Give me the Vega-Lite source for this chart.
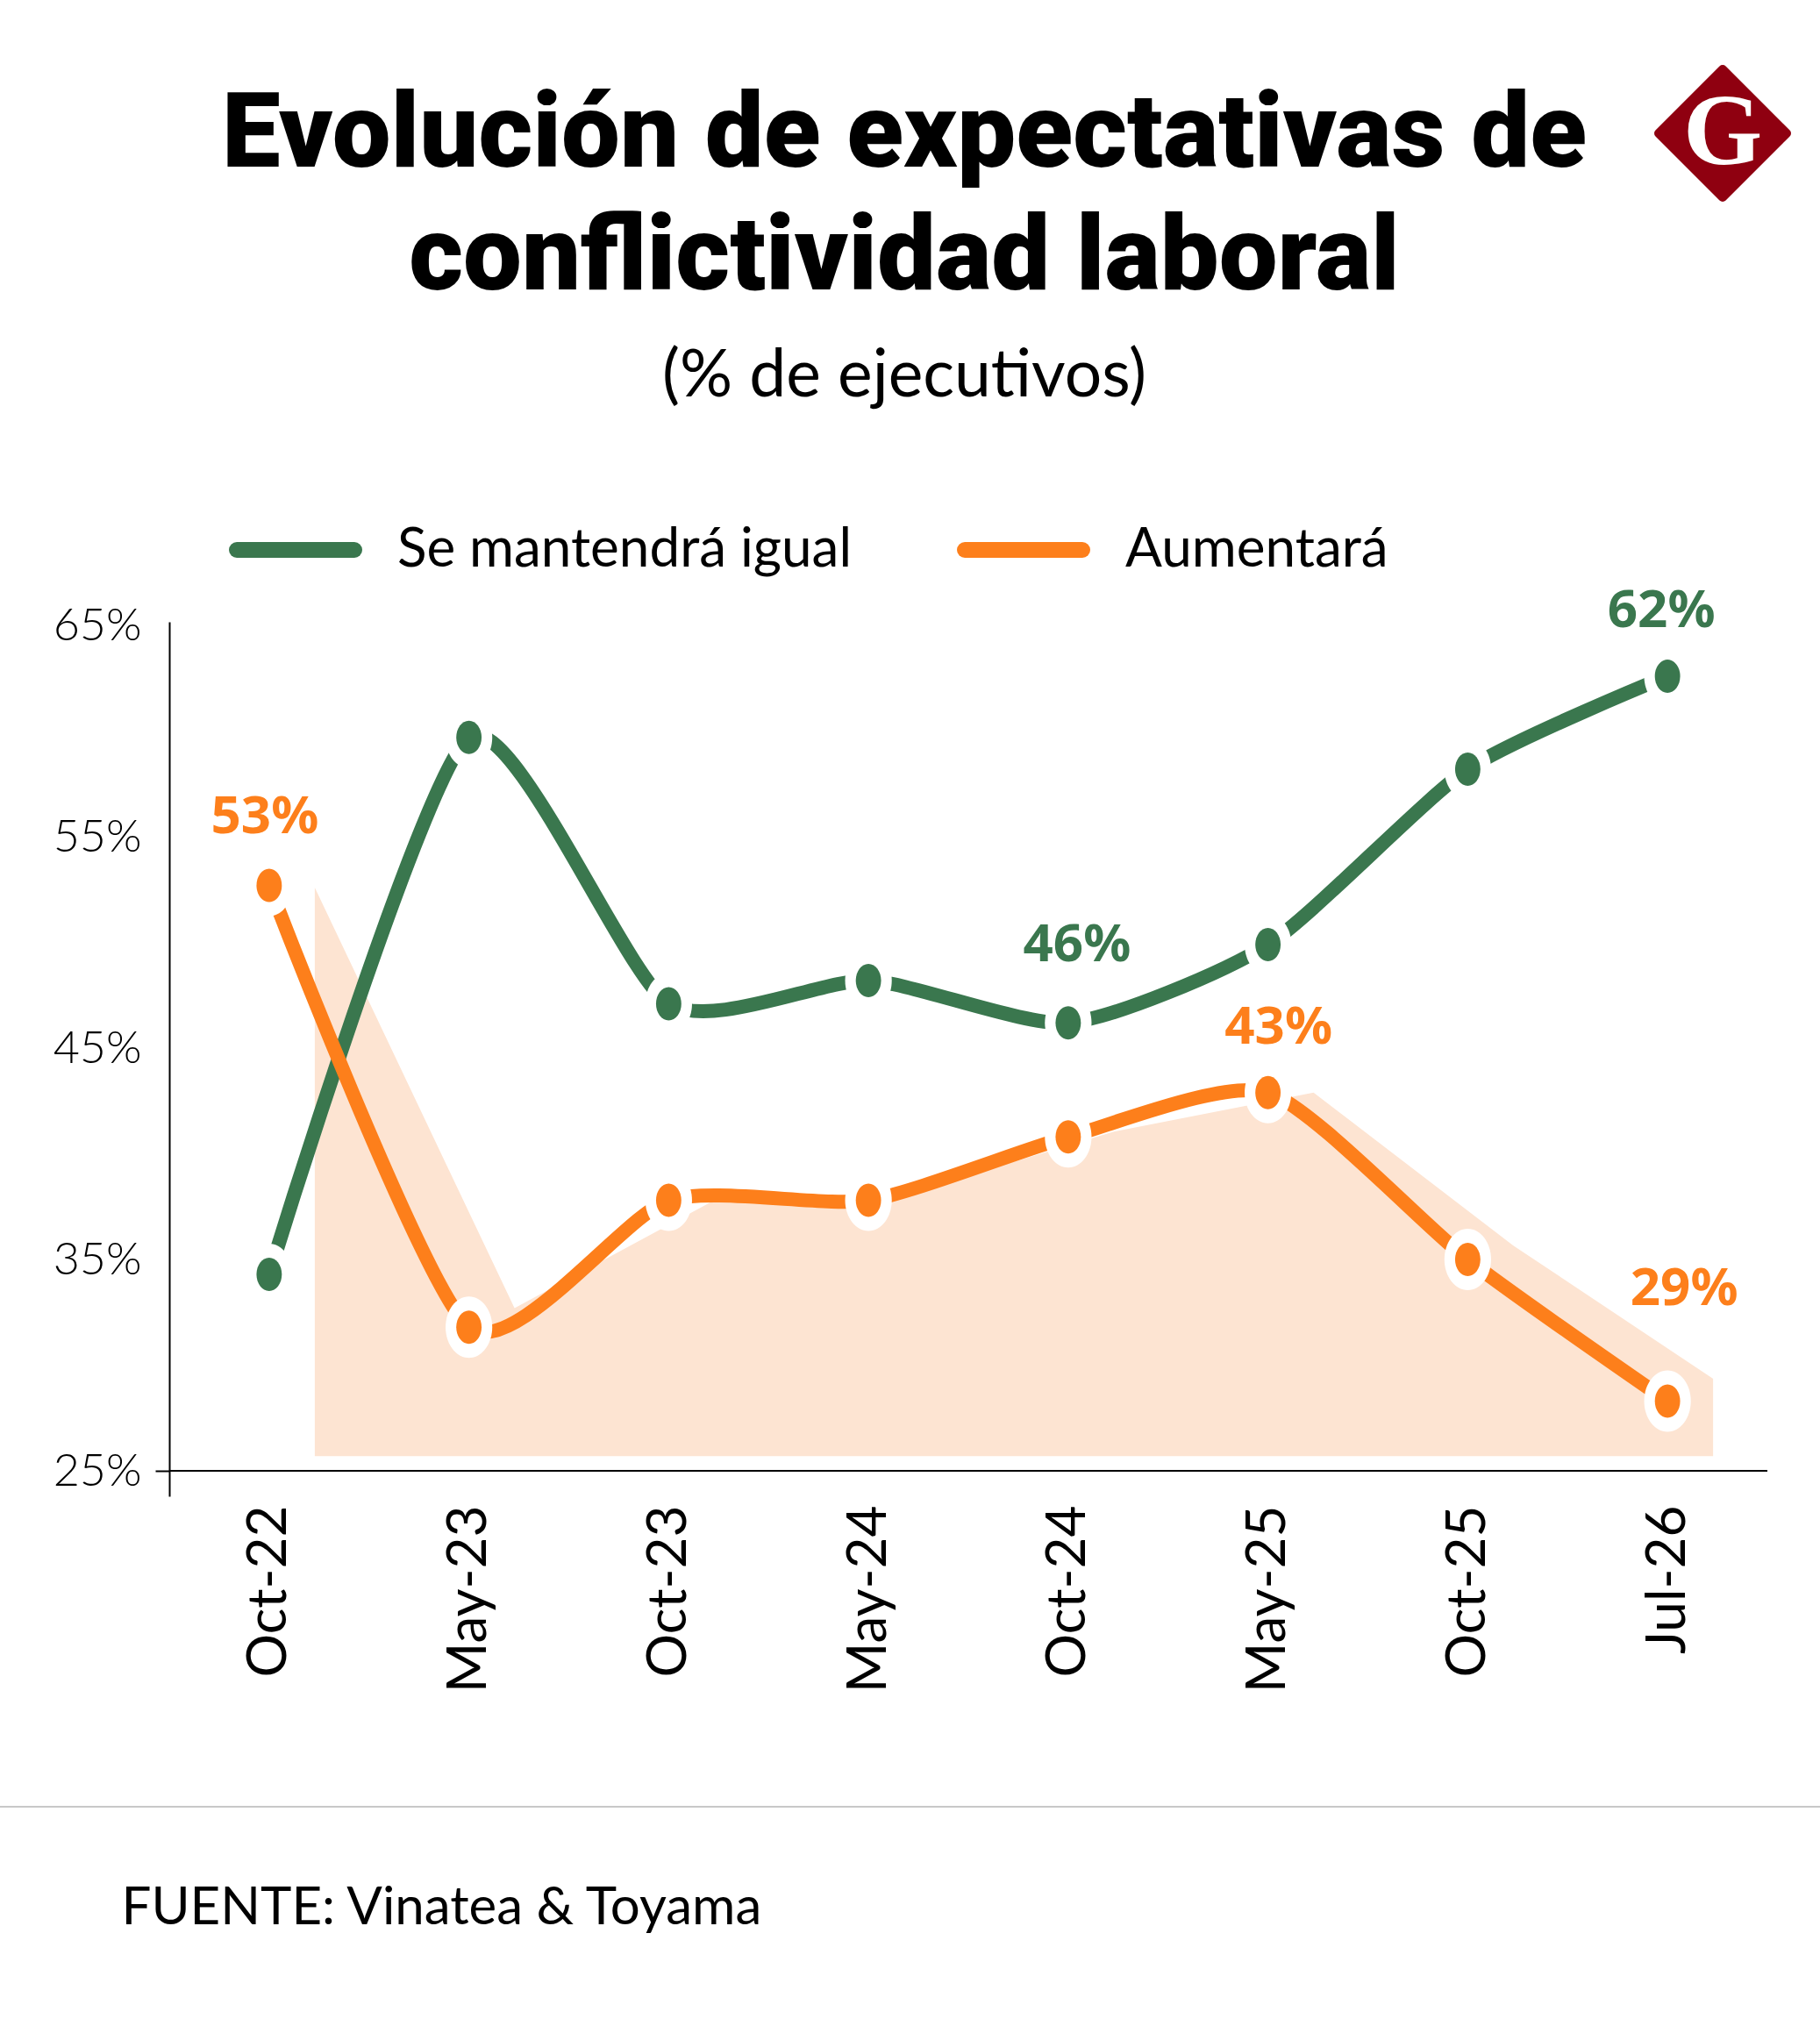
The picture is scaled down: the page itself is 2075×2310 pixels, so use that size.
{
  "$schema": "https://vega.github.io/schema/vega-lite/v6.json",
  "autosize": {"type": "none"},
  "padding": {"left": 193, "top": 709, "right": 60, "bottom": 604},
  "width": 1822,
  "height": 997,
  "background": "white",
  "title": {
    "text": ["Evolución de expectativas de", "conflictividad laboral"],
    "subtitle": "(% de ejecutivos)",
    "anchor": "middle",
    "frame": "group",
    "dx": -73,
    "offset": -394,
    "font": "Roboto",
    "fontWeight": 900,
    "fontSize": 119,
    "lineHeight": 140,
    "color": "#000000",
    "subtitleFont": "Lato",
    "subtitleFontSize": 75,
    "subtitleColor": "#000000",
    "subtitlePadding": 38
  },
  "config": {
    "view": {"stroke": null},
    "axis": {"grid": false, "labelColor": "#000000"}
  },
  "datasets": {
    "series": [
      {"fecha": "Oct-22", "serie": "Se mantendrá igual", "valor": 34.3},
      {"fecha": "May-23", "serie": "Se mantendrá igual", "valor": 59.7},
      {"fecha": "Oct-23", "serie": "Se mantendrá igual", "valor": 47.1},
      {"fecha": "May-24", "serie": "Se mantendrá igual", "valor": 48.2},
      {"fecha": "Oct-24", "serie": "Se mantendrá igual", "valor": 46.2},
      {"fecha": "May-25", "serie": "Se mantendrá igual", "valor": 49.9},
      {"fecha": "Oct-25", "serie": "Se mantendrá igual", "valor": 58.2},
      {"fecha": "Jul-26", "serie": "Se mantendrá igual", "valor": 62.6},
      {"fecha": "Oct-22", "serie": "Aumentará", "valor": 52.7},
      {"fecha": "May-23", "serie": "Aumentará", "valor": 31.8},
      {"fecha": "Oct-23", "serie": "Aumentará", "valor": 37.8},
      {"fecha": "May-24", "serie": "Aumentará", "valor": 37.8},
      {"fecha": "Oct-24", "serie": "Aumentará", "valor": 40.8},
      {"fecha": "May-25", "serie": "Aumentará", "valor": 42.9},
      {"fecha": "Oct-25", "serie": "Aumentará", "valor": 35.0},
      {"fecha": "Jul-26", "serie": "Aumentará", "valor": 28.3}
    ],
    "sombra": [
      {"fecha": "Oct-22", "valor": 52.6},
      {"fecha": "May-23", "valor": 32.7},
      {"fecha": "Oct-23", "valor": 37.8},
      {"fecha": "May-24", "valor": 38.2},
      {"fecha": "Oct-24", "valor": 41.05},
      {"fecha": "May-25", "valor": 42.9},
      {"fecha": "Oct-25", "valor": 35.66},
      {"fecha": "Jul-26", "valor": 29.36}
    ],
    "etiquetas": [
      {"fecha": "Oct-22", "serie": "Aumentará", "valor": 52.7, "texto": "53%", "grupo": "a"},
      {"fecha": "Jul-26", "serie": "Se mantendrá igual", "valor": 62.6, "texto": "62%", "grupo": "b"},
      {"fecha": "Oct-24", "serie": "Se mantendrá igual", "valor": 46.2, "texto": "46%", "grupo": "c"},
      {"fecha": "May-25", "serie": "Aumentará", "valor": 42.9, "texto": "43%", "grupo": "d"},
      {"fecha": "Jul-26", "serie": "Aumentará", "valor": 28.3, "texto": "29%", "grupo": "e"}
    ]
  },
  "encoding": {
    "x": {
      "field": "fecha",
      "type": "ordinal",
      "sort": null,
      "scale": {
        "type": "point",
        "padding": 0.5,
        "domain": ["Oct-22", "May-23", "Oct-23", "May-24", "Oct-24", "May-25", "Oct-25", "Jul-26"]
      },
      "axis": {
        "title": "FUENTE: Vinatea & Toyama",
        "titleFont": "Lato",
        "titleFontSize": 60,
        "titleFontWeight": 400,
        "titleColor": "#000000",
        "titleAnchor": "start",
        "titleAlign": "left",
        "titleBaseline": "middle",
        "titleX": -55,
        "titleY": 469,
        "domain": false,
        "ticks": false,
        "labelAngle": 270,
        "labelAlign": "right",
        "labelBaseline": "middle",
        "labelFont": "Lato",
        "labelFontSize": 62,
        "labelPadding": 10,
        "labelLimit": 400
      }
    },
    "y": {
      "field": "valor",
      "type": "quantitative",
      "scale": {"domain": [23.8, 65.17], "nice": false, "zero": false},
      "axis": {
        "title": null,
        "values": [25, 35, 45, 55, 65],
        "format": ".0f",
        "labelExpr": "datum.value + '%'",
        "domainColor": "#000000",
        "domainWidth": 2,
        "tickSize": 16,
        "tickWidth": 2,
        "tickColor": {"condition": {"test": "datum.value == 25", "value": "#000000"}, "value": "transparent"},
        "labelFont": "Lato",
        "labelFontSize": 52,
        "labelFontWeight": 300,
        "labelPadding": 16
      }
    }
  },
  "layer": [
    {
      "data": {"name": "sombra"},
      "mark": {"type": "area", "color": "#FDE4D2", "xOffset": 52, "interpolate": "linear"},
      "encoding": {"y2": {"datum": 25.7}}
    },
    {
      "data": {"values": [{"valor": 25}]},
      "mark": {"type": "rule", "color": "#000000", "strokeWidth": 2},
      "encoding": {"x": {"value": 0}, "x2": {"value": 1822}}
    },
    {
      "data": {"name": "series"},
      "mark": {"type": "line", "interpolate": "cardinal", "tension": 0.35, "strokeWidth": 16},
      "encoding": {
        "color": {
          "field": "serie",
          "type": "nominal",
          "scale": {"domain": ["Se mantendrá igual", "Aumentará"], "range": ["#3A774E", "#FD7F1B"]},
          "legend": {
            "title": null,
            "orient": "none",
            "legendX": 68,
            "legendY": -158,
            "direction": "horizontal",
            "columns": 2,
            "symbolType": "stroke",
            "symbolSize": 17956,
            "symbolStrokeWidth": 18,
            "labelFont": "Lato",
            "labelFontSize": 62,
            "labelColor": "#000000",
            "labelOffset": 40,
            "columnPadding": 92,
            "labelLimit": 800,
            "encode": {"symbols": {"update": {"strokeCap": {"value": "round"}}}}
          }
        }
      }
    },
    {
      "data": {"name": "series"},
      "mark": {
        "type": "point",
        "shape": "M-0.76,0A0.76,1 0 1 1 0.76,0A0.76,1 0 1 1 -0.76,0Z",
        "filled": true,
        "opacity": 1,
        "color": "white",
        "size": 4900
      }
    },
    {
      "data": {"name": "series"},
      "mark": {
        "type": "point",
        "shape": "M-0.76,0A0.76,1 0 1 1 0.76,0A0.76,1 0 1 1 -0.76,0Z",
        "filled": true,
        "opacity": 1,
        "size": 1444
      },
      "encoding": {
        "color": {"field": "serie", "type": "nominal", "legend": null}
      }
    },
    {
      "data": {"name": "etiquetas"},
      "transform": [{"filter": "datum.grupo == 'a'"}],
      "mark": {"type": "text", "font": "Noto Sans", "fontWeight": 700, "fontSize": 60, "dx": -5, "dy": -78},
      "encoding": {"text": {"field": "texto"}, "color": {"field": "serie", "type": "nominal", "legend": null}}
    },
    {
      "data": {"name": "etiquetas"},
      "transform": [{"filter": "datum.grupo == 'b'"}],
      "mark": {"type": "text", "font": "Noto Sans", "fontWeight": 700, "fontSize": 60, "dx": -7, "dy": -74},
      "encoding": {"text": {"field": "texto"}, "color": {"field": "serie", "type": "nominal", "legend": null}}
    },
    {
      "data": {"name": "etiquetas"},
      "transform": [{"filter": "datum.grupo == 'c'"}],
      "mark": {"type": "text", "font": "Noto Sans", "fontWeight": 700, "fontSize": 60, "dx": 10, "dy": -88},
      "encoding": {"text": {"field": "texto"}, "color": {"field": "serie", "type": "nominal", "legend": null}}
    },
    {
      "data": {"name": "etiquetas"},
      "transform": [{"filter": "datum.grupo == 'd'"}],
      "mark": {"type": "text", "font": "Noto Sans", "fontWeight": 700, "fontSize": 60, "dx": 12, "dy": -74},
      "encoding": {"text": {"field": "texto"}, "color": {"field": "serie", "type": "nominal", "legend": null}}
    },
    {
      "data": {"name": "etiquetas"},
      "transform": [{"filter": "datum.grupo == 'e'"}],
      "mark": {"type": "text", "font": "Noto Sans", "fontWeight": 700, "fontSize": 60, "dx": 19, "dy": -128},
      "encoding": {"text": {"field": "texto"}, "color": {"field": "serie", "type": "nominal", "legend": null}}
    },
    {
      "data": {"values": [{"pieza": "pie"}]},
      "mark": {"type": "rule", "color": "#C8C8C8", "strokeWidth": 2},
      "encoding": {"x": {"value": -193}, "x2": {"value": 1882}, "y": {"value": 1351}}
    },
    {
      "data": {"values": [{"pieza": "logo"}]},
      "mark": {
        "type": "point",
        "shape": "M0,-1L1,0L0,1L-1,0Z",
        "filled": true,
        "color": "#8F0010",
        "opacity": 1,
        "stroke": "#8F0010",
        "strokeWidth": 10,
        "strokeJoin": "round",
        "size": 21316
      },
      "encoding": {"x": {"value": 1771}, "y": {"value": -557}}
    },
    {
      "data": {"values": [{"pieza": "logo", "letra": "G"}]},
      "mark": {"type": "text", "font": "Liberation Serif", "fontWeight": 700, "fontSize": 116, "color": "white", "baseline": "middle"},
      "encoding": {"text": {"field": "letra"}, "x": {"value": 1771}, "y": {"value": -557}}
    }
  ]
}
